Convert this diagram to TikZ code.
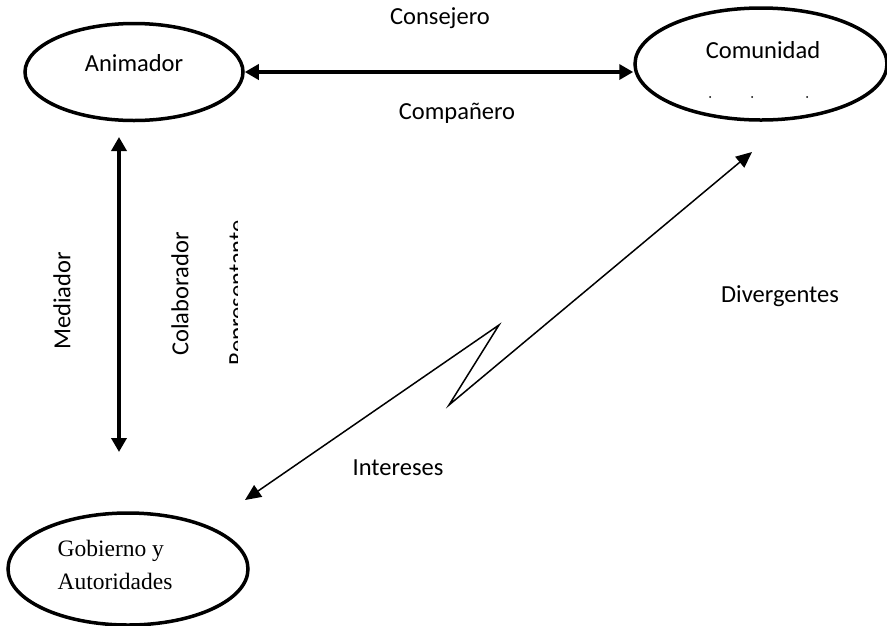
\documentclass[tikz,border=0pt]{standalone}
\usepackage{fontspec}
\setmainfont{Carlito}
\newfontfamily\timesfont{Liberation Serif}
\usetikzlibrary{shapes.geometric,arrows.meta}
\tikzset{
  actor/.style={ellipse,draw,line width=3.5pt,inner sep=0pt},
  lbl/.style={font=\fontsize{24.5}{29}\selectfont,inner sep=0pt},
  bigarrow/.style={line width=3.5pt,{Triangle[length=14pt,width=15pt]}-{Triangle[length=14pt,width=15pt]}},
  thinarrow/.style={line width=1.5pt,{Triangle[length=16pt,width=14pt]}-{Triangle[length=16pt,width=14pt]}}
}
\begin{document}
\begin{tikzpicture}[x=1pt,y=-1pt]
\useasboundingbox (0,0) rectangle (887,625);
% actors
\node[actor,minimum width=218pt,minimum height=97pt] (anim) at (134,72) {};
\node[actor,minimum width=252pt,minimum height=112pt] (com) at (761,64) {};
\node[actor,minimum width=240pt,minimum height=112pt] (gob) at (128,569) {};
\node[lbl] (animtext) at (134,63) {Animador};
\node[lbl] (comtext) at (763,50) {Comunidad};
\fill (710,97) circle (1pt) (752,97) circle (1pt) (807,97) circle (1pt);
\node[font=\timesfont\fontsize{23.5}{33}\selectfont,align=left,inner sep=0pt] (gobtext) at (115,565) {Gobierno y\\Autoridades};
% top link
\draw[bigarrow] (anim.east) -- (anim.east -| com.west);
\node[lbl] (consejero) at (440,18) {Consejero};
\node[lbl] (companero) at (457,113) {Compañero};
% left link
\coordinate (mtop) at (119,137);
\coordinate (mbot) at (119,452);
\draw[bigarrow] (mtop) -- (mbot);
\node[lbl,rotate=90] (mediador) at (62,301) {Mediador};
\node[lbl,rotate=90] (colaborador) at (180,294) {Colaborador};
\begin{scope}
\clip (200,215) rectangle (237,372);
\node[lbl,rotate=90,anchor=base] (repr) at (245,293) {Representante};
\end{scope}
% diagonal link
\coordinate (gobtip) at (245,500);
\coordinate (zzA) at (499,325);
\coordinate (zzB) at (449,405);
\coordinate (comtip) at (752,152);
\draw[thinarrow] (gobtip) -- (zzA) -- (zzB) -- (comtip);
\node[lbl] (divergentes) at (780,296) {Divergentes};
\node[lbl] (intereses) at (398,468) {Intereses};
\end{tikzpicture}
\end{document}
